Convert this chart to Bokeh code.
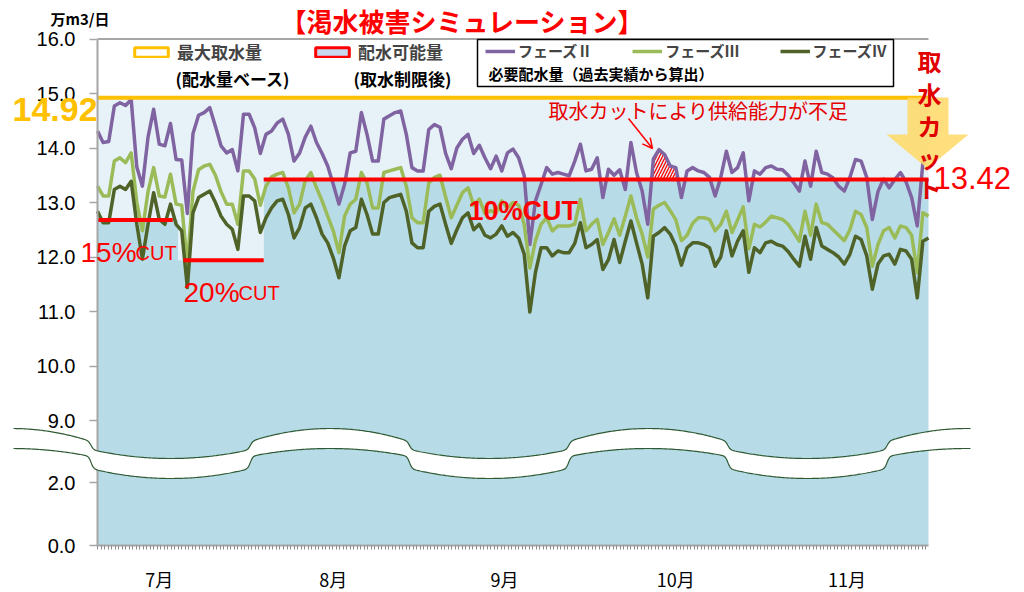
import numpy as np
from bokeh.plotting import figure
from bokeh.models import (Range1d, FixedTicker, Label, Legend, LegendItem,
                          PolyAnnotation, BoxAnnotation, Arrow, OpenHead)
from bokeh.embed import file_html
from bokeh.resources import INLINE

JP = "Noto Sans CJK JP"
LAT = "Liberation Sans"

# ---------------- data (万m3/日, daily from early July) ----------------
phase2 = [14.31, 14.10, 14.12, 14.77, 14.83, 14.78, 14.89, 13.65, 13.30, 14.20,
          14.71, 14.07, 14.04, 14.45, 13.79, 13.78, 12.80, 14.26, 14.60, 14.65,
          14.74, 14.40, 14.04, 13.91, 13.97, 13.58, 14.62, 14.62, 14.37, 13.90,
          14.25, 14.31, 14.46, 14.53, 14.25, 13.76, 13.91, 14.20, 14.40, 14.10,
          13.90, 13.67, 13.33, 12.97, 13.33, 13.91, 13.94, 14.65, 14.25, 13.76,
          13.76, 14.53, 14.59, 14.65, 14.68, 14.25, 13.64, 13.58, 13.58, 14.34,
          14.43, 14.38, 13.90, 13.62, 14.00, 14.16, 14.25, 13.90, 14.05, 13.82,
          13.62, 13.85, 13.58, 13.91, 13.98, 13.82, 13.49, 12.23, 13.03, 13.33,
          13.64, 13.52, 13.55, 13.52, 13.49, 13.76, 14.07, 13.58, 13.61, 13.82,
          13.09, 13.61, 13.50, 13.60, 13.24, 14.10, 13.55, 13.21, 12.60, 13.80,
          13.97, 13.88, 13.67, 13.64, 13.09, 13.58, 13.64, 13.58, 13.55, 13.46,
          13.12, 13.46, 13.94, 13.55, 13.64, 13.91, 13.03, 13.58, 13.52, 13.64,
          13.67, 13.61, 13.60, 13.50, 13.36, 13.21, 13.76, 13.30, 13.94, 13.55,
          13.52, 13.45, 13.30, 13.21, 13.46, 13.79, 13.76, 13.46, 12.69, 13.20,
          13.43, 13.27, 13.42, 13.55, 13.38, 13.09, 12.57, 13.73, 13.85]
phase3 = [13.30, 13.12, 13.12, 13.76, 13.82, 13.73, 13.91, 13.00, 12.48, 13.20,
          13.64, 13.12, 13.10, 13.52, 12.97, 12.95, 11.85, 13.20, 13.60, 13.67,
          13.70, 13.50, 13.20, 12.97, 12.97, 12.60, 13.58, 13.58, 13.43, 12.95,
          13.30, 13.47, 13.52, 13.55, 13.27, 12.81, 12.97, 13.40, 13.55, 13.27,
          13.03, 12.75, 12.48, 12.08, 12.75, 12.97, 13.06, 13.55, 13.36, 12.90,
          12.90, 13.55, 13.58, 13.61, 13.64, 13.30, 12.72, 12.63, 12.63, 13.36,
          13.46, 13.50, 13.10, 12.72, 12.95, 13.18, 13.27, 12.95, 13.06, 12.80,
          12.85, 12.81, 13.03, 12.90, 13.00, 12.95, 12.60, 11.80, 12.30, 12.60,
          12.72, 12.48, 12.57, 12.57, 12.57, 12.60, 13.06, 12.48, 12.60, 12.69,
          12.23, 12.45, 12.70, 12.40, 12.75, 13.12, 12.72, 12.42, 12.00, 12.88,
          12.95, 13.00, 12.85, 12.68, 12.30, 12.40, 12.62, 12.72, 12.72, 12.69,
          12.48, 12.60, 12.84, 12.45, 12.68, 12.92, 12.15, 12.60, 12.55, 12.64,
          12.75, 12.72, 12.69, 12.60, 12.45, 12.29, 12.84, 12.40, 12.97, 12.63,
          12.60, 12.50, 12.40, 12.30, 12.50, 12.84, 12.78, 12.54, 11.83, 12.23,
          12.48, 12.54, 12.35, 12.57, 12.54, 12.40, 11.71, 12.81, 12.75]
phase4 = [12.84, 12.63, 12.63, 13.24, 13.30, 13.24, 13.39, 12.60, 11.96, 12.60,
          13.18, 12.69, 12.60, 12.97, 12.60, 12.48, 11.44, 12.81, 13.09, 13.15,
          13.21, 13.00, 12.75, 12.60, 12.51, 12.14, 13.12, 13.12, 13.03, 12.45,
          12.72, 12.90, 13.03, 13.06, 12.78, 12.35, 12.54, 12.90, 12.97, 12.72,
          12.42, 12.26, 11.98, 11.62, 12.20, 12.48, 12.54, 13.06, 12.78, 12.42,
          12.42, 13.00, 13.09, 13.12, 13.15, 12.84, 12.26, 12.17, 12.17, 12.84,
          12.93, 12.97, 12.60, 12.25, 12.50, 12.72, 12.81, 12.50, 12.60, 12.40,
          12.35, 12.42, 12.57, 12.38, 12.45, 12.35, 12.05, 10.99, 11.72, 12.17,
          12.17, 12.02, 12.11, 12.08, 12.08, 12.25, 12.63, 12.17, 12.23, 12.32,
          11.77, 11.95, 12.32, 11.90, 12.29, 12.66, 12.26, 11.87, 11.25, 12.38,
          12.45, 12.54, 12.42, 12.20, 11.85, 12.17, 12.26, 12.26, 12.23, 12.17,
          11.83, 12.00, 12.48, 12.02, 12.29, 12.48, 11.72, 12.17, 12.08, 12.26,
          12.29, 12.23, 12.20, 12.10, 11.96, 11.83, 12.38, 11.96, 12.54, 12.20,
          12.14, 12.08, 12.00, 11.87, 12.05, 12.38, 12.32, 12.02, 11.41, 11.87,
          12.02, 12.05, 11.87, 12.14, 12.11, 11.96, 11.25, 12.29, 12.35]
days = list(range(len(phase2)))

max_intake = 14.92                  # 最大取水量
cut_pct = [15, 20, 10]              # 取水制限率 (%)
cut_levels = [12.68, 11.94, 13.42]  # 配水可能量
cut_start = [0, 15.3, 29.6]         # period start (day index)
cut_end = [13.4, 29.6, 148]         # period end (day index)
shortage_span = [98, 104]           # 供給能力不足 window (day index)

month_labels = ["7月", "8月", "9月", "10月", "11月"]
month_pos = [11, 42, 72.5, 103, 133.5]
y_ticks = [0, 2, 9, 10, 11, 12, 13, 14, 15, 16]

# ---------------- broken y axis transform ----------------
def ty(v):
    v = np.asarray(v, dtype=float)
    return np.where(v <= 2, v * 31.5, 125 + (v - 9) * 54.5)

# page pixel -> data helpers (used only for decoration placement)
W, H = 1020, 590
FX0, FX1, XMAX = 97.0, 928.0, 148.0
PXD = (FX1 - FX0) / XMAX
def X(px):
    return (np.asarray(px, dtype=float) - FX0) / PXD
def Y(py):
    return 545.0 - np.asarray(py, dtype=float)

p = figure(width=W, height=H,
           x_range=Range1d(float(X(0)), float(X(W))), y_range=Range1d(float(Y(H)), float(Y(0))),
           output_backend="svg", toolbar_location=None,
           min_border_left=0, min_border_right=0, min_border_top=0, min_border_bottom=0)
p.xgrid.visible = False
p.ygrid.visible = False
p.outline_line_color = None
p.background_fill_color = "white"
p.border_fill_color = "white"

# ---------------- fills ----------------
bounds = [0] + [(cut_end[k] + cut_start[k + 1]) / 2 for k in range(len(cut_start) - 1)] + [XMAX]
xs_step, ys_step = [], []
for k, lv in enumerate(cut_levels):
    xs_step += [bounds[k], bounds[k + 1]]
    ys_step += [lv, lv]
p.varea(x=xs_step, y1=ty(ys_step).tolist(), y2=[float(ty(max_intake))] * len(xs_step),
        fill_color="#e6f2f7")
p.varea(x=xs_step, y1=[0] * len(xs_step), y2=ty(ys_step).tolist(), fill_color="#b7dce7")

# hatched shortage region
hx = np.linspace(shortage_span[0], shortage_span[1], 121)
hv = np.maximum(np.interp(hx, days, phase2), cut_levels[2])
p.varea(x=hx.tolist(), y1=[float(ty(cut_levels[2]))] * len(hx), y2=ty(hv).tolist(),
        fill_alpha=0, hatch_pattern="/", hatch_color="#ff0000", hatch_weight=1.3,
        hatch_scale=6)

# ---------------- lines ----------------
r2 = p.line(days, ty(phase2).tolist(), line_color="#8064a2", line_width=3.5, line_join="round")
r3 = p.line(days, ty(phase3).tolist(), line_color="#9bbb59", line_width=3.5, line_join="round")
r4 = p.line(days, ty(phase4).tolist(), line_color="#4f6228", line_width=3.5, line_join="round")

cl = ty(cut_levels).tolist()
p.segment(x0=cut_start, x1=cut_end, y0=cl, y1=cl, line_color="#ff0000", line_width=4)
p.segment(x0=[0], x1=[XMAX], y0=[float(ty(max_intake))], y1=[float(ty(max_intake))],
          line_color="#ffc000", line_width=4)
p.segment(x0=[0], x1=[XMAX], y0=[float(ty(16))], y1=[float(ty(16))],
          line_color="#a6a6a6", line_width=2)

# ---------------- axes (fixed inside the enlarged frame) ----------------
yt = ty(y_ticks)
p.yaxis.fixed_location = 0
p.yaxis.bounds = (0, float(ty(16)))
p.yaxis.ticker = FixedTicker(ticks=yt.tolist())
p.yaxis.major_label_overrides = {(int(t) if float(t).is_integer() else float(t)): f"{v:.1f}"
                                 for t, v in zip(yt, y_ticks)}
p.yaxis.axis_line_color = "#a6a6a6"
p.yaxis.axis_line_width = 2
p.yaxis.major_tick_line_color = "#a6a6a6"
p.yaxis.major_tick_line_width = 1.5
p.yaxis.major_tick_out = 8
p.yaxis.major_tick_in = 0
p.yaxis.minor_tick_line_color = None
p.yaxis.major_label_text_font = LAT
p.yaxis.major_label_text_font_size = "20px"
p.yaxis.major_label_text_color = "black"
p.yaxis.major_label_standoff = 14

p.xaxis.fixed_location = 0
p.xaxis.bounds = (0, XMAX)
p.xaxis.ticker = FixedTicker(ticks=month_pos, minor_ticks=np.arange(0, XMAX + 0.01, 0.625).tolist())
p.xaxis.major_label_overrides = {(int(t) if float(t).is_integer() else float(t)): lab
                                 for t, lab in zip(month_pos, month_labels)}
p.xaxis.axis_line_color = "#a6a6a6"
p.xaxis.axis_line_width = 2
p.xaxis.major_tick_line_color = None
p.xaxis.major_tick_out = 0
p.xaxis.minor_tick_line_color = "#8c8c8c"
p.xaxis.minor_tick_line_width = 1
p.xaxis.minor_tick_out = 4
p.xaxis.minor_tick_in = 0
p.xaxis.major_label_text_font = JP
p.xaxis.major_label_text_font_size = "18px"
p.xaxis.major_label_text_color = "black"
p.xaxis.major_label_standoff = 16

# ---------------- axis break band ----------------
def band_edges(xpx):
    c0, P = 11.0, 159.2
    h = P / 2
    j = np.floor((xpx - c0) / P)
    def arc(k, x, top):
        u = (x - (c0 + k * P)) / h
        high = np.mod(k, 2) == 0
        if top:
            return np.where(high, 428 + 13 * u ** 2, 458 - 9 * u ** 2)
        return np.where(high, 448 + 8 * u ** 2, 478 - 10 * u ** 2)
    b = c0 + j * P + h
    w = 0.5 * (1 + np.tanh((xpx - b) / 2.5))
    top = (1 - w) * arc(j, xpx, True) + w * arc(j + 1, xpx, True)
    bot = (1 - w) * arc(j, xpx, False) + w * arc(j + 1, xpx, False)
    return top, bot

bpx = np.linspace(13, 970, 700)
btop, bbot = band_edges(bpx)
bx = X(bpx)
p.add_layout(PolyAnnotation(xs=np.concatenate([bx, bx[::-1]]).tolist(),
                            ys=np.concatenate([Y(btop), Y(bbot)[::-1]]).tolist(),
                            fill_color="white", fill_alpha=1, line_alpha=0))
for edge in (btop, bbot):
    p.add_layout(PolyAnnotation(xs=np.concatenate([bx, bx[::-1]]).tolist(),
                                ys=np.concatenate([Y(edge), Y(edge)[::-1]]).tolist(),
                                fill_alpha=0, line_color="#2f5a34", line_alpha=1,
                                line_width=1.2))

# ---------------- cut arrow (取水カット) ----------------
apx = [907, 948, 948, 968, 927, 886, 907]
apy = [97, 97, 134, 134, 168, 134, 134]
p.add_layout(PolyAnnotation(xs=X(apx).tolist(), ys=Y(apy).tolist(),
                            fill_color="#ffd966", fill_alpha=0.85, line_alpha=0))

# ---------------- legends ----------------
leg_lines = Legend(items=[LegendItem(label="フェーズⅡ", renderers=[r2]),
                          LegendItem(label="フェーズⅢ", renderers=[r3]),
                          LegendItem(label="フェーズⅣ", renderers=[r4])],
                   orientation="horizontal", location=(388 + 97, 590 - 61),
                   label_text_font=JP, label_text_font_size="15px",
                   label_text_font_style="bold", glyph_width=30, glyph_height=16,
                   label_standoff=3, spacing=40, padding=0, margin=0,
                   border_line_alpha=0, background_fill_alpha=0)
p.add_layout(leg_lines)

# proxy renderers (drawn off-view) for the two area legend swatches
q1 = p.quad(left=[-1000], right=[-999], bottom=[-5000], top=[-4999], fill_color="white",
            line_color="#ffc000", line_width=3)
q2 = p.quad(left=[-1000], right=[-999], bottom=[-5000], top=[-4999], fill_color="#c6d9f0",
            line_color="#ff0000", line_width=3)
leg_box = Legend(items=[LegendItem(label="最大取水量", renderers=[q1]),
                        LegendItem(label="配水可能量", renderers=[q2])],
                 orientation="horizontal", location=(130, 590 - 64),
                 label_text_font=JP, label_text_font_size="17px",
                 label_text_font_style="bold", glyph_width=42, glyph_height=12,
                 label_standoff=5, spacing=49, padding=0, margin=0,
                 border_line_alpha=0, background_fill_alpha=0)
p.add_layout(leg_box)

# border around the line legend (incl. its second text row)
p.add_layout(BoxAnnotation(left=float(X(477)), right=float(X(893)),
                           top=float(Y(39)), bottom=float(Y(86)),
                           fill_alpha=0, line_color="black", line_alpha=1, line_width=1.5))

def lab(text, px, py, size, color="black", font=JP, style="normal",
        align="left", baseline="middle"):
    p.add_layout(Label(x=float(X(px)), y=float(Y(py)), text=text,
                       text_font=font, text_font_size=size, text_color=color,
                       text_font_style=style, text_align=align, text_baseline=baseline))

lab("(配水量ベース)", 175, 78, "17px", style="bold")
lab("(取水制限後)", 353, 78, "17px", style="bold")
lab("必要配水量（過去実績から算出）", 488, 73, "15px", style="bold")

# ---------------- titles and annotations ----------------
lab("【渇水被害シミュレーション】", 462, 20, "26px", color="#ff0000", style="bold", align="center")
lab("万m3/日", 50, 18, "15px", style="bold")
lab(f"{max_intake:.2f}", 12, 109, "34px", color="#ffc000", font=LAT, style="bold")
lab(f"{cut_levels[2]:.2f}", 933, 177, "31px", color="#ff0000", font=LAT)

for ch, py in zip("取水カット", [60, 93, 125, 157, 187]):
    lab(ch, 929, py, "24px", color="#e00000", style="bold", align="center")

lab("取水カットにより供給能力が不足", 548, 110, "20px", color="#e60000")
p.add_layout(Arrow(end=OpenHead(size=10, line_color="#ff0000", line_width=1.5),
                   x_start=float(X(628)), y_start=float(Y(118)),
                   x_end=float(X(652)), y_end=float(Y(148)),
                   line_color="#ff0000", line_width=1.5))

# cut-rate labels
lab(f"{cut_pct[0]}%", 80, 252, "28px", color="#ff0000", font=LAT, baseline="alphabetic")
lab("CUT", 135, 252, "20px", color="#ff0000", font=LAT, baseline="alphabetic")
lab(f"{cut_pct[1]}%", 183, 292, "28px", color="#ff0000", font=LAT, baseline="alphabetic")
lab("CUT", 238, 292, "20px", color="#ff0000", font=LAT, baseline="alphabetic")
lab(f"{cut_pct[2]}%CUT", 468, 210, "27px", color="#ff0000", font=LAT, style="bold",
    baseline="alphabetic")

open("out.html", "w").write(file_html(p, INLINE))
